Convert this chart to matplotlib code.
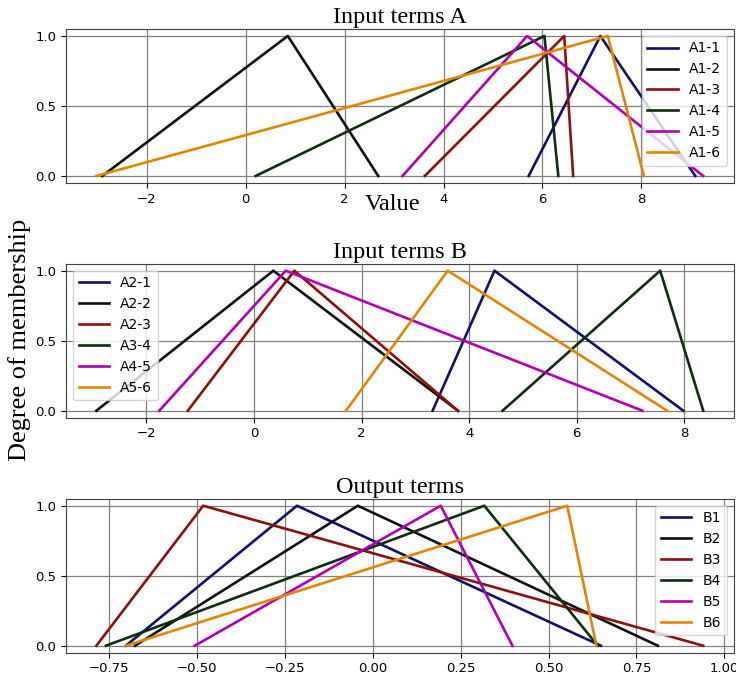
import matplotlib
matplotlib.use("Agg")
import matplotlib.pyplot as plt

# triangular membership functions: (start, peak, end)
labels_a = ["A1-1", "A1-2", "A1-3", "A1-4", "A1-5", "A1-6"]
start_a = [5.72, -2.90, 3.62, 0.20, 3.17, -3.02]
peak_a = [7.17, 0.85, 6.44, 6.04, 5.69, 7.32]
end_a = [9.09, 2.68, 6.62, 6.32, 9.25, 8.05]

labels_b = ["A2-1", "A2-2", "A2-3", "A3-4", "A4-5", "A5-6"]
start_b = [3.32, -2.93, -1.23, 4.62, -1.76, 1.71]
peak_b = [4.47, 0.36, 0.75, 7.55, 0.59, 3.60]
end_b = [7.98, 3.79, 3.79, 8.35, 7.22, 7.68]

labels_out = ["B1", "B2", "B3", "B4", "B5", "B6"]
start_out = [-0.703, -0.677, -0.787, -0.760, -0.507, -0.703]
peak_out = [-0.216, -0.043, -0.483, 0.317, 0.193, 0.553]
end_out = [0.649, 0.811, 0.940, 0.640, 0.397, 0.636]

colors = ["#10106e", "#111111", "#8b1010", "#0f2e10", "#b000b0", "#e08600"]

fig = plt.figure(figsize=(7.36, 6.8), dpi=100)
left, width, height = 0.0897, 0.907, 0.2265
bottoms = [0.7309, 0.3857, 0.0401]

panels = [
    ("Input terms A", labels_a, start_a, peak_a, end_a, "upper right"),
    ("Input terms B", labels_b, start_b, peak_b, end_b, "upper left"),
    ("Output terms", labels_out, start_out, peak_out, end_out, "upper right"),
]

for (title, labels, st, pk, en, loc), bot in zip(panels, bottoms):
    ax = fig.add_axes([left, bot, width, height])
    for i in range(len(labels)):
        ax.plot([st[i], pk[i], en[i]], [0, 1, 0], color=colors[i], lw=1.9, label=labels[i])
    ax.set_title(title, fontsize=17.5, family="Liberation Serif", pad=4)
    ax.grid(True, color="0.5", lw=0.9)
    ax.set_yticks([0.0, 0.5, 1.0])
    ax.tick_params(labelsize=9.5)
    for s in ax.spines.values():
        s.set_color("0.25")
    ax.legend(loc=loc, fontsize=10, handlelength=2.2)

fig.text(0.534, 0.699, "Value", ha="center", va="center", fontsize=17.5, family="Liberation Serif")
fig.text(0.026, 0.50, "Degree of membership", ha="center", va="center", rotation=90,
         fontsize=19, family="Liberation Serif")

fig.savefig("out.png", dpi=100)
